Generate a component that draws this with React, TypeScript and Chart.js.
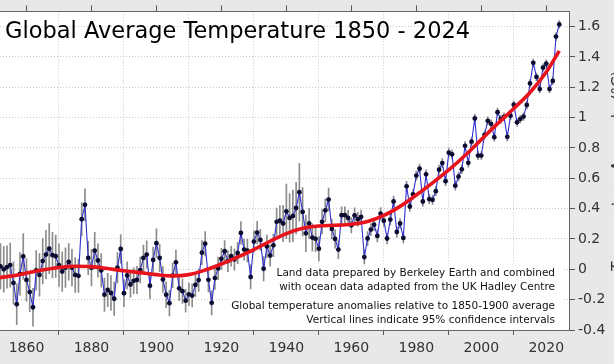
import { useEffect, useRef } from "react";
import { Chart, registerables } from "chart.js";

Chart.register(...registerables);

// ---------------- DATA ----------------
const FIRST_YEAR = 1850;
const anomaly = [
  // 1850-1859
  -0.1, 0.02, 0.02, 0.0, 0.015, 0.028, -0.09, -0.23, -0.03, 0.085,
  // 1860-1869
  -0.07, -0.15, -0.25, -0.007, -0.037, 0.054, 0.097, 0.136, 0.093, 0.086,
  // 1870-1879
  0.028, -0.015, 0.011, 0.049, 0.011, -0.037, -0.043, 0.33, 0.425, 0.075,
  // 1880-1889
  0.011, 0.123, 0.058, -0.007, -0.167, -0.136, -0.156, -0.194, 0.011, 0.134,
  // 1890-1899
  -0.157, -0.04, -0.1, -0.076, -0.07, -0.005, 0.075, 0.097, -0.108, 0.062,
  // 1900-1909
  0.172, 0.075, -0.067, -0.167, -0.223, -0.041, 0.046, -0.125, -0.144, -0.207,
  // 1910-1919
  -0.165, -0.173, -0.103, -0.071, 0.11, 0.169, -0.069, -0.221, -0.058, 0.006,
  // 1920-1929
  0.069, 0.119, 0.054, 0.086, 0.065, 0.108, 0.24, 0.13, 0.123, -0.05,
  // 1930-1939
  0.183, 0.242, 0.194, 0.004, 0.151, 0.091, 0.158, 0.313, 0.32, 0.302,
  // 1940-1949
  0.382, 0.339, 0.352, 0.404, 0.508, 0.378, 0.237, 0.302, 0.209, 0.201,
  // 1950-1959
  0.136, 0.313, 0.389, 0.46, 0.266, 0.2, 0.13, 0.357, 0.357, 0.339,
  // 1960-1969
  0.29, 0.355, 0.33, 0.346, 0.081, 0.203, 0.262, 0.294, 0.22, 0.367,
  // 1970-1979
  0.32, 0.203, 0.328, 0.447, 0.246, 0.302, 0.207, 0.547, 0.414, 0.494,
  // 1980-1989
  0.618, 0.663, 0.447, 0.626, 0.462, 0.458, 0.515, 0.657, 0.7, 0.581,
  // 1990-1999
  0.769, 0.758, 0.551, 0.611, 0.659, 0.814, 0.702, 0.841, 0.994, 0.75,
  // 2000-2009
  0.75, 0.886, 0.979, 0.959, 0.871, 1.036, 0.99, 1.005, 0.873, 1.012,
  // 2010-2019
  1.085, 0.969, 0.99, 1.007, 1.083, 1.225, 1.361, 1.268, 1.188, 1.329,
  // 2020-2024
  1.355, 1.188, 1.242, 1.534, 1.614,
];

// 95% confidence half-widths
const uncertainty = [
  0.16, 0.15, 0.15, 0.15, 0.14, 0.145, 0.14, 0.135, 0.14, 0.15,
  0.14, 0.13, 0.125, 0.13, 0.14, 0.15, 0.16, 0.165, 0.15, 0.14,
  0.14, 0.13, 0.13, 0.12, 0.12, 0.115, 0.11, 0.11, 0.105, 0.11,
  0.12, 0.12, 0.11, 0.11, 0.11, 0.11, 0.115, 0.11, 0.1, 0.095,
  0.09, 0.09, 0.085, 0.085, 0.09, 0.085, 0.085, 0.09, 0.085, 0.085,
  0.095, 0.09, 0.085, 0.085, 0.085, 0.08, 0.08, 0.08, 0.08, 0.075,
  0.075, 0.075, 0.075, 0.075, 0.08, 0.08, 0.08, 0.08, 0.075, 0.075,
  0.07, 0.07, 0.07, 0.065, 0.07, 0.07, 0.075, 0.07, 0.075, 0.08,
  0.07, 0.075, 0.07, 0.08, 0.075, 0.07, 0.075, 0.09, 0.1, 0.12,
  0.18, 0.16, 0.17, 0.17, 0.19, 0.16, 0.12, 0.1, 0.09, 0.085,
  0.08, 0.08, 0.075, 0.075, 0.065, 0.06, 0.06, 0.055, 0.055, 0.05,
  0.05, 0.05, 0.045, 0.045, 0.045, 0.045, 0.04, 0.04, 0.04, 0.04,
  0.038, 0.035, 0.035, 0.035, 0.035, 0.033, 0.033, 0.033, 0.032, 0.032,
  0.03, 0.03, 0.03, 0.03, 0.03, 0.03, 0.03, 0.03, 0.03, 0.03,
  0.03, 0.03, 0.03, 0.028, 0.028, 0.028, 0.028, 0.028, 0.028, 0.028,
  0.026, 0.026, 0.026, 0.026, 0.026, 0.026, 0.026, 0.026, 0.026, 0.026,
  0.025, 0.025, 0.025, 0.025, 0.025, 0.025, 0.025, 0.025, 0.025, 0.025,
  0.025, 0.025, 0.025, 0.025, 0.025,
];

const smoothYears = [
  1850, 1855, 1860, 1865, 1870, 1875, 1880, 1885, 1890, 1895, 1900, 1905,
  1910, 1915, 1920, 1925, 1930, 1935, 1940, 1945, 1950, 1955, 1960, 1965,
  1970, 1975, 1980, 1985, 1990, 1995, 2000, 2005, 2010, 2015, 2020, 2024,
];
const smoothValues = [
  -0.06, -0.045, -0.025, -0.005, 0.012, 0.02, 0.018, 0.005, -0.01, -0.022, -0.035, -0.043,
  -0.035, -0.005, 0.035, 0.08, 0.13, 0.185, 0.235, 0.27, 0.285, 0.29, 0.297, 0.315,
  0.355, 0.415, 0.49, 0.57, 0.655, 0.75, 0.855, 0.96, 1.06, 1.165, 1.3, 1.44,
];

const xTickYears = [1860, 1880, 1900, 1920, 1940, 1960, 1980, 2000, 2020];
const yTickValues = [-0.4, -0.2, 0, 0.2, 0.4, 0.6, 0.8, 1, 1.2, 1.4, 1.6];

const titleText = "Global Average Temperature 1850 - 2024";
const noteBlock1 = [
  "Land data prepared by Berkeley Earth and combined",
  "with ocean data adapted from the UK Hadley Centre",
];
const noteBlock2 = [
  "Global temperature anomalies relative to 1850-1900 average",
  "Vertical lines indicate 95% confidence intervals",
];
const sideLabel = "Temperature Anomaly (°C)";

// ---------------- CHART ----------------
const FONT = "'DejaVu Sans', 'Liberation Sans', sans-serif";

const decorPlugin = {
  id: "decor",
  beforeDraw(chart: any) {
    const { ctx, chartArea, width, height } = chart;
    ctx.save();
    ctx.fillStyle = "#e8e8e8";
    ctx.fillRect(0, 0, width, height);
    ctx.fillStyle = "#ffffff";
    ctx.fillRect(
      chartArea.left,
      chartArea.top,
      chartArea.right - chartArea.left,
      chartArea.bottom - chartArea.top
    );
    ctx.restore();
  },
  beforeDatasetsDraw(chart: any) {
    const { ctx, chartArea } = chart;
    ctx.save();
    ctx.fillStyle = "#ffffff";
    ctx.fillRect(chartArea.right - 340, chartArea.bottom - 66, 335, 65);
    ctx.restore();
  },
  afterDraw(chart: any) {
    const { ctx, chartArea, width } = chart;
    ctx.save();
    ctx.fillStyle = "#000000";
    ctx.font = `22.5px ${FONT}`;
    ctx.textAlign = "left";
    ctx.textBaseline = "alphabetic";
    ctx.fillText(titleText, 15, 38);

    ctx.font = `10.5px ${FONT}`;
    ctx.textAlign = "right";
    ctx.fillStyle = "#111111";
    const rx = chartArea.right - 14;
    ctx.fillText(noteBlock1[0], rx, chartArea.bottom - 54);
    ctx.fillText(noteBlock1[1], rx, chartArea.bottom - 40.5);
    ctx.fillText(noteBlock2[0], rx, chartArea.bottom - 21);
    ctx.fillText(noteBlock2[1], rx, chartArea.bottom - 7.5);

    // right-hand axis title, mostly cut off by the picture edge
    ctx.translate(width + 9, (chartArea.top + chartArea.bottom) / 2);
    ctx.rotate(-Math.PI / 2);
    ctx.font = `15px ${FONT}`;
    ctx.textAlign = "center";
    ctx.fillStyle = "#333333";
    ctx.fillText(sideLabel, 0, 0);
    ctx.restore();
  },
};

const setXTicks = (s: any) => {
  s.ticks = xTickYears.map((v) => ({ value: v }));
};
const setYTicks = (s: any) => {
  s.ticks = yTickValues.map((v) => ({ value: v }));
};

export default function App() {
  const ref = useRef<HTMLCanvasElement>(null);

  useEffect(() => {
    if (!ref.current) return;
    Chart.defaults.font.family = FONT;

    const pts = anomaly.map((v, i) => ({ x: FIRST_YEAR + i, y: v }));
    const bars = anomaly.map((v, i) => ({
      x: FIRST_YEAR + i,
      y: [v - uncertainty[i], v + uncertainty[i]],
    }));
    const smooth = smoothYears.map((yr, i) => ({ x: yr, y: smoothValues[i] }));

    const gridCommon = {
      color: "#c9c9c9",
      lineWidth: 1,
      tickColor: "#555555",
      tickWidth: 1,
      tickBorderDash: [],
    };

    const chart = new Chart(ref.current, {
      type: "line",
      data: {
        datasets: [
          {
            type: "bar",
            data: bars as any,
            backgroundColor: "#8c8c8c",
            borderWidth: 0,
            barThickness: 1,
            order: 3,
          } as any,
          {
            type: "line",
            data: pts,
            borderColor: "#2f2fcf",
            borderWidth: 1.1,
            pointRadius: 2.4,
            pointBackgroundColor: "#0c0c30",
            pointBorderWidth: 0,
            tension: 0,
            order: 2,
          },
          {
            type: "line",
            data: smooth,
            borderColor: "#e8141c",
            borderWidth: 3.6,
            pointRadius: 0,
            cubicInterpolationMode: "monotone",
            order: 1,
          },
        ],
      },
      options: {
        responsive: false,
        animation: false,
        events: [],
        layout: { padding: 0 },
        plugins: {
          legend: { display: false },
          tooltip: { enabled: false },
          title: { display: false },
        },
        scales: {
          x: {
            type: "linear",
            position: "bottom",
            min: 1850,
            max: 2027,
            offset: false,
            afterBuildTicks: setXTicks,
            afterFit: (s: any) => {
              s.height = 34;
            },
            grid: { ...gridCommon, tickLength: 5, borderDash: [1, 2] } as any,
            border: { display: true, color: "#666666", dash: [1, 2] } as any,
            ticks: {
              color: "#333333",
              font: { size: 14 },
              padding: 5,
              maxRotation: 0,
              autoSkip: false,
              callback: (v: any) => String(v),
            },
          },
          xTop: {
            type: "linear",
            position: "top",
            min: 1850,
            max: 2027,
            offset: false,
            afterBuildTicks: setXTicks,
            afterFit: (s: any) => {
              s.height = 6;
            },
            grid: { ...gridCommon, tickLength: 6, drawOnChartArea: false } as any,
            border: { display: true, color: "#666666" } as any,
            ticks: { display: false },
          },
          y: {
            type: "linear",
            position: "right",
            min: -0.4,
            max: 1.7,
            afterBuildTicks: setYTicks,
            afterFit: (s: any) => {
              s.width = 45;
            },
            grid: { ...gridCommon, tickLength: 6, borderDash: [1, 2] } as any,
            border: { display: true, color: "#666666", dash: [1, 2] } as any,
            ticks: {
              color: "#333333",
              font: { size: 14 },
              padding: 3,
              callback: (v: any) => String(Math.round(Number(v) * 10) / 10),
            },
          },
        },
      },
      plugins: [decorPlugin],
    } as any);

    return () => chart.destroy();
  }, []);

  return (
    <div
      style={{
        position: "fixed",
        left: -10,
        top: 0,
        width: 624,
        height: 364,
        background: "#e8e8e8",
      }}
    >
      <canvas
        ref={ref}
        width={624}
        height={364}
        style={{ display: "block", width: 624, height: 364 }}
      />
    </div>
  );
}
